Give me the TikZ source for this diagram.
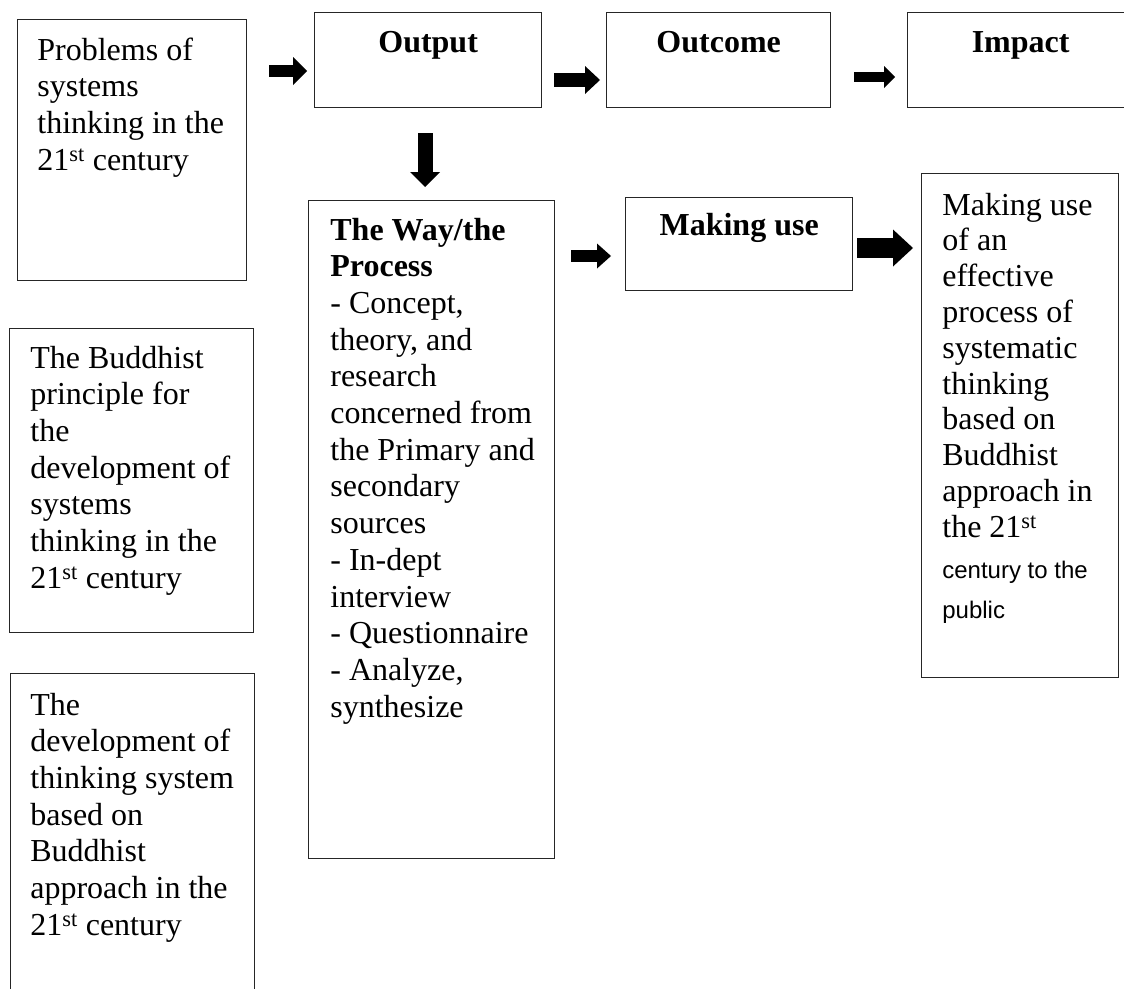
\documentclass[tikz,border=0pt]{standalone}
\usepackage{fontspec}
\setmainfont{Liberation Serif}
\setsansfont{Liberation Sans}
\usetikzlibrary{arrows.meta,calc}

\tikzset{every picture/.style={line width=0.75pt}}
\tikzset{
  box/.style={draw=black!85, line width=1.3pt, anchor=north west, inner sep=0pt},
  txt/.style={anchor=base west, inner sep=0pt, text width=#1, align=flush left,
    font=\fontsize{32pt}{36.7pt}\selectfont},
  head/.style={anchor=base, inner sep=0pt, font=\fontsize{32pt}{36.7pt}\selectfont\bfseries},
  fatarr/.style n args={3}{line width=#1, -{Triangle[length=#2, width=#3, line width=0pt]}},
}

\begin{document}
\begin{tikzpicture}[x=1pt,y=-1pt]
\path[use as bounding box, clip] (0,0) rectangle (1124,988);

% Left column
\node[box, minimum width=229pt, minimum height=261pt] (prob) at (17,19) {};
\node[txt=220pt] (probtxt) at (37,60) {Problems of\\ systems\\ thinking in the\\ 21\textsuperscript{st} century};

\node[box, minimum width=244pt, minimum height=304pt] (budd) at (9,328) {};
\node[txt=220pt] (buddtxt) at (30,368) {The Buddhist\\ principle for\\ the\\ development of\\ systems\\ thinking in the\\ 21\textsuperscript{st} century};

\node[box, minimum width=244pt, minimum height=340pt] (devt) at (10,673) {};
\node[txt=220pt] (devttxt) at (30,715) {The\\ development of\\ thinking system\\ based on\\ Buddhist\\ approach in the\\ 21\textsuperscript{st} century};

% Top row
\node[box, minimum width=227pt, minimum height=95pt] (outp) at (314,12) {};
\node[head] (outptxt) at (outp.north |- 0,52) {Output};

\node[box, minimum width=224pt, minimum height=95pt] (outc) at (606,12) {};
\node[head] (outctxt) at (outc.north |- 0,52) {Outcome};

\node[box, minimum width=226pt, minimum height=95pt] (impc) at (907,12) {};
\node[head] (impctxt) at (impc.north |- 0,52) {Impact};

% Second row
\node[box, minimum width=246pt, minimum height=658pt] (proc) at (308,200) {};
\node[txt=220pt] (proctxt) at (330,240) {\textbf{The Way/the}\\ \textbf{Process}\\ - Concept,\\ theory, and\\ research\\ concerned from\\ the Primary and\\ secondary\\ sources\\ - In-dept\\ interview\\ - Questionnaire\\ - Analyze,\\ synthesize};

\node[box, minimum width=227pt, minimum height=93pt] (mkuse) at (625,197) {};
\node[head] (mkusetxt) at (mkuse.north |- 0,235) {Making use};

\node[box, minimum width=197pt, minimum height=504pt] (rslt) at (921,173) {};
\node[txt=180pt, font=\fontsize{32pt}{35.8pt}\selectfont] (rslttxt) at (942,215) {Making use\\ of an\\ effective\\ process of\\ systematic\\ thinking\\ based on\\ Buddhist\\ approach in\\ the 21\textsuperscript{st}\\[5pt] {\sffamily\fontsize{24pt}{35.8pt}\selectfont century to the\\[4.2pt] public}};

% Arrows
\draw[fatarr={12pt}{14pt}{28pt}, shorten <=22pt, shorten >=7pt] (prob.east |- 0,71) -- (outp.west |- 0,71);
\draw[fatarr={14pt}{15pt}{28pt}, shorten <=12pt, shorten >=6pt] (outp.east |- 0,80) -- (outc.west |- 0,80);
\draw[fatarr={10pt}{11pt}{22pt}, shorten <=23pt, shorten >=12pt] (outc.east |- 0,77) -- (impc.west |- 0,77);
\draw[fatarr={15pt}{15pt}{30pt}, shorten <=25pt, shorten >=13pt] (425,0 |- outp.south) -- (425,0 |- proc.north);
\draw[fatarr={12pt}{14pt}{25pt}, shorten <=16pt, shorten >=14pt] (proc.east |- 0,256) -- (mkuse.west |- 0,256);
\draw[fatarr={20pt}{20pt}{37pt}, shorten <=4pt, shorten >=8pt] (mkuse.east |- 0,248) -- (rslt.west |- 0,248);

\end{tikzpicture}
\end{document}
